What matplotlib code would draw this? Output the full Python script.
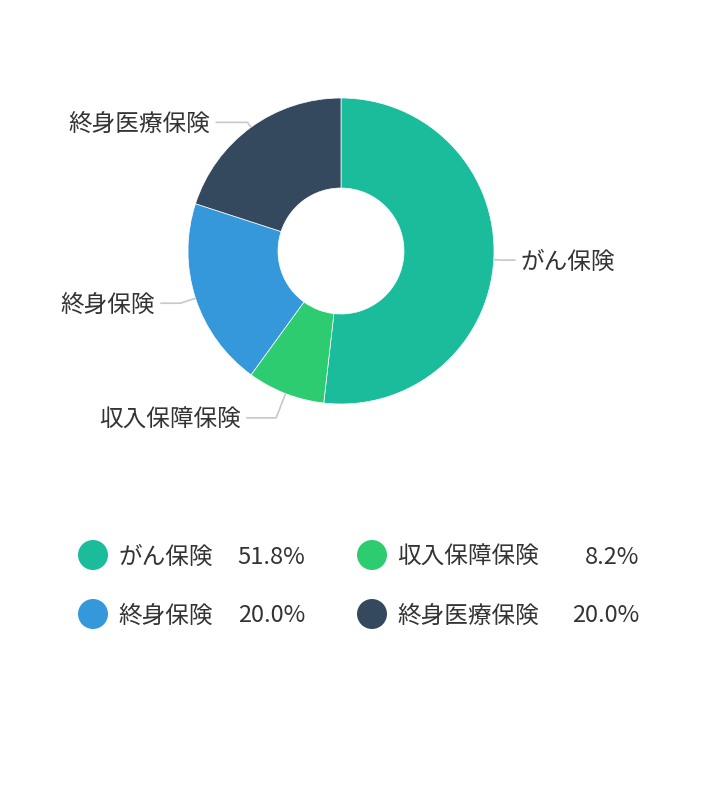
import numpy as np
import matplotlib
matplotlib.use("Agg")
import matplotlib.pyplot as plt
from matplotlib.patches import Circle

plt.rcParams['font.family'] = ['Noto Sans CJK JP', 'DejaVu Sans']

# data
categories = ['がん保険', '収入保障保険', '終身保険', '終身医療保険']
shares = [51.8, 8.2, 20.0, 20.0]
colors = ['#1abc9c', '#2ecc71', '#3498db', '#34495e']

W, H = 716, 800
fig = plt.figure(figsize=(W / 100, H / 100), dpi=100)
ax = fig.add_axes([0, 0, 1, 1])

cx, cy = 341, H - 251
r_out, r_in = 153, 63

wedges, _ = ax.pie(shares, colors=colors, startangle=90, counterclock=False,
                   center=(cx, cy), radius=r_out, frame=True,
                   wedgeprops=dict(width=r_out - r_in, linewidth=0.5, edgecolor='white'))
ax.set_xlim(0, W)
ax.set_ylim(0, H)
ax.set_aspect('equal')
ax.axis('off')

# outside labels with leader lines (first / second segment lengths per label)
seg1 = [8, 26, 16, 6]
seg2 = [14, 30, 20, 32]
text_col = '#333333'
line_col = '#c8c8c8'
for w, name, l1, l2 in zip(wedges, categories, seg1, seg2):
    mid = np.deg2rad((w.theta1 + w.theta2) / 2)
    dx, dy = np.cos(mid), np.sin(mid)
    x0, y0 = cx + r_out * dx, cy + r_out * dy
    x1, y1 = cx + (r_out + l1) * dx, cy + (r_out + l1) * dy
    side = 1 if dx >= 0 else -1
    x2 = x1 + side * l2
    ax.plot([x0, x1, x2], [y0, y1, y1], color=line_col, lw=1.2, solid_capstyle='butt')
    ax.text(x2 + side * 5, y1 - 2, name, ha='left' if side > 0 else 'right', va='center',
            fontsize=17, color=text_col)

# legend
leg_pos = [(93, 555, 305), (372, 555, 639), (93, 614, 305), (372, 614, 639)]
for (lx, ly, px), name, val, c in zip(leg_pos, categories, shares, colors):
    ax.add_patch(Circle((lx, H - ly), 15, color=c, lw=0))
    ax.text(lx + 25, H - ly - 2, name, ha='left', va='center', fontsize=17, color=text_col)
    ax.text(px, H - ly - 2, f'{val:.1f}%', ha='right', va='center', fontsize=17, color=text_col)

fig.savefig('out.png', dpi=100, facecolor='white')
